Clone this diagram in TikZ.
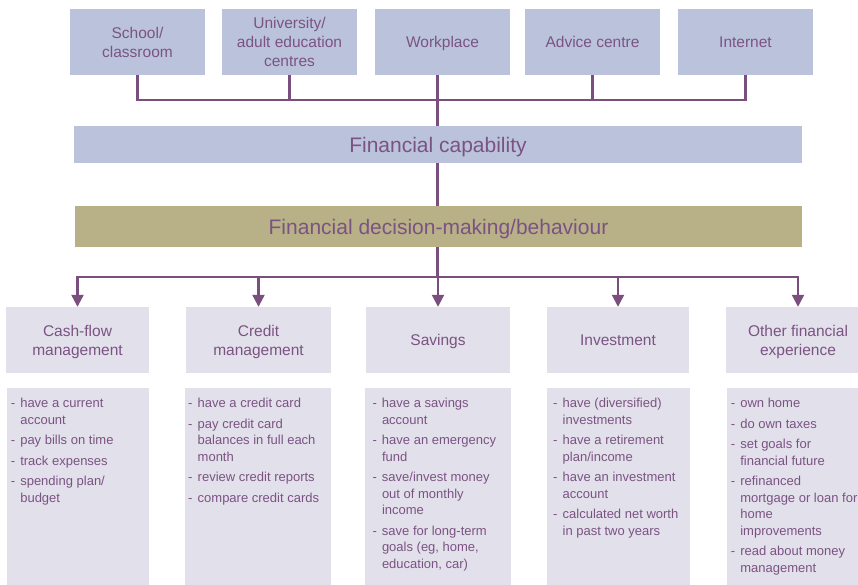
\documentclass[tikz,border=0pt]{standalone}
\usepackage{fontspec}
\setmainfont{Liberation Sans}
\usetikzlibrary{arrows.meta}

\definecolor{srcblue}{HTML}{BBC3DC}
\definecolor{plum}{HTML}{7A4F7E}
\definecolor{plumtext}{HTML}{7B5383}
\definecolor{olivebar}{HTML}{B8B087}
\definecolor{mist}{HTML}{E2E0EA}

% hanging dash for the activity lists
\newcommand\itemdash{\makebox[9.5pt][l]{-}}
\newcommand\itemcont{\hspace*{9.5pt}}

\tikzset{
  source/.style={fill=srcblue, minimum width=135pt, minimum height=66pt,
    inner sep=0pt, align=center, text=plumtext, text depth=0pt,
    font=\fontsize{15.5}{19}\selectfont},
  band/.style={minimum height=37pt, inner sep=0pt, text=plumtext, text depth=0pt,
    font=\fontsize{21}{25}\selectfont},
  area/.style={fill=mist, minimum height=66pt, inner sep=0pt, align=center,
    text=plumtext, text depth=0pt, font=\fontsize{15.5}{19}\selectfont},
  listbox/.style={fill=mist, minimum height=212pt, inner sep=0pt, anchor=north west},
  listtext/.style={anchor=base west, inner sep=0pt, text=plumtext,
    font=\fontsize{13}{16.5}\selectfont},
  link/.style={draw=plum, line width=2.2pt},
  feed/.style={link, -{Triangle[width=12pt,length=12pt]}},
}

\begin{document}
\begin{tikzpicture}[x=1pt, y=-1pt]
\useasboundingbox (0,0) rectangle (858,584);
\begin{scope}
\clip (0,0) rectangle (858,584);

% where financial capability is learnt
\node[source] (school) at (137.5,42) {School/\\classroom};
\node[source] (uni)    at (289.5,42) {University/\\adult education\\centres};
\node[source] (work)   at (442.5,42) {Workplace};
\node[source] (advice) at (592.5,42) {Advice centre};
\node[source] (inet)   at (745.5,42) {Internet};

% central bands
\node[band, fill=srcblue, minimum width=728pt] (capab) at (438,144.5) {Financial capability};
\node[band, fill=olivebar, minimum width=727pt, minimum height=41pt] (decide) at (438.5,226.5)
  {Financial decision-making/behaviour};

% areas of behaviour
\node[area, minimum width=143pt] (cash)    at (77.5,340)  {Cash-flow\\management};
\node[area, minimum width=145pt] (credit)  at (258.5,340) {Credit\\management};
\node[area, minimum width=144pt] (savings) at (438,340)   {Savings};
\node[area, minimum width=142pt] (invest)  at (618,340)   {Investment};
\node[area, minimum width=144pt] (other)   at (798,340)   {Other financial\\experience};

% list panels
\node[listbox, minimum width=142pt] (cashL)    at (7,388)   {};
\node[listbox, minimum width=146pt] (creditL)  at (185,388) {};
\node[listbox, minimum width=146pt] (savingsL) at (365,388) {};
\node[listbox, minimum width=143pt] (investL)  at (547,388) {};
\node[listbox, minimum width=143pt] (otherL)   at (727,388) {};

\node[listtext] (cashT) at (10.6,407.5) {\begin{tabular}[t]{@{}l@{}}
\itemdash have a current\\ \itemcont account\\[4pt]
\itemdash pay bills on time\\[4pt]
\itemdash track expenses\\[4pt]
\itemdash spending plan/\\ \itemcont budget
\end{tabular}};

\node[listtext] (creditT) at (188,407.5) {\begin{tabular}[t]{@{}l@{}}
\itemdash have a credit card\\[4pt]
\itemdash pay credit card\\ \itemcont balances in full each\\ \itemcont month\\[4pt]
\itemdash review credit reports\\[4pt]
\itemdash compare credit cards
\end{tabular}};

\node[listtext] (savingsT) at (372.3,407.5) {\begin{tabular}[t]{@{}l@{}}
\itemdash have a savings\\ \itemcont account\\[4pt]
\itemdash have an emergency\\ \itemcont fund\\[4pt]
\itemdash save/invest money\\ \itemcont out of monthly\\ \itemcont income\\[4pt]
\itemdash save for long-term\\ \itemcont goals (eg, home,\\ \itemcont education, car)
\end{tabular}};

\node[listtext] (investT) at (553,407.5) {\begin{tabular}[t]{@{}l@{}}
\itemdash have (diversified)\\ \itemcont investments\\[4pt]
\itemdash have a retirement\\ \itemcont plan/income\\[4pt]
\itemdash have an investment\\ \itemcont account\\[4pt]
\itemdash calculated net worth\\ \itemcont in past two years
\end{tabular}};

\node[listtext] (otherT) at (730.6,407.5) {\begin{tabular}[t]{@{}l@{}}
\itemdash own home\\[4pt]
\itemdash do own taxes\\[4pt]
\itemdash set goals for\\ \itemcont financial future\\[4pt]
\itemdash refinanced\\ \itemcont mortgage or loan for\\ \itemcont home\\ \itemcont improvements\\[4pt]
\itemdash read about money\\ \itemcont management
\end{tabular}};

% feeder lines into financial capability
\coordinate (topbus) at (437.5,100);
\draw[link] (school.south) |- (inet.south |- topbus) -- (inet.south);
\draw[link] (uni.south) -- (uni.south |- topbus);
\draw[link] (advice.south) -- (advice.south |- topbus);
\draw[link] (work.south -| topbus) -- (capab.north -| topbus);
\draw[link] (capab.south -| topbus) -- (decide.north -| topbus);

% distribution to the five areas
\coordinate (lowbus) at (437.5,277);
\draw[link] (decide.south -| lowbus) -- (lowbus);
\draw[link, line cap=rect] (cash.north |- lowbus) -- (other.north |- lowbus);
\foreach \n in {cash,credit,savings,invest,other}
  \draw[feed] (\n.north |- lowbus) -- (\n.north);

\end{scope}
\end{tikzpicture}
\end{document}
